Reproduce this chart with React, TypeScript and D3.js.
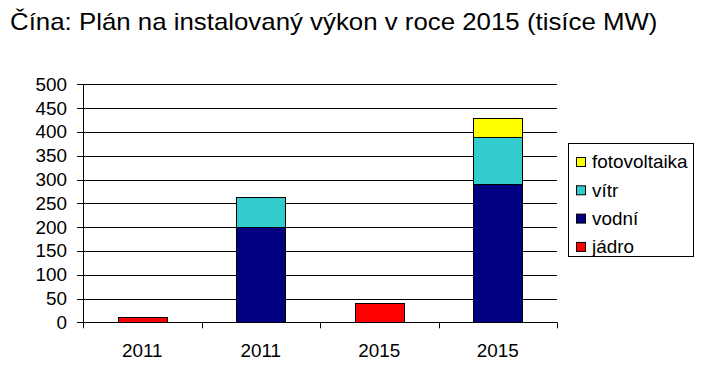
import React from "react";
import * as d3 from "d3";

const categories = ["2011", "2011", "2015", "2015"];
const seriesNames = ["jádro", "vodní", "vítr", "fotovoltaika"];
const jadro = [12, 0, 40, 0];
const vodni = [0, 200, 0, 290];
const vitr = [0, 63, 0, 100];
const fotovoltaika = [0, 0, 0, 40];
const yTicks = [0, 50, 100, 150, 200, 250, 300, 350, 400, 450, 500];
const colors = ["#FF0000", "#000080", "#33CCCC", "#FFFF00"];
const title = "Čína: Plán na instalovaný výkon v roce 2015 (tisíce MW)";

const W = 702;
const H = 376;
const plot = { left: 83, right: 557, top: 84.3, bottom: 322.3 };
const FONT = "'Liberation Sans', Arial, sans-serif";
const SX = 1.05;
const FS = 18;

export default function App() {
  const rows = categories.map((c, i) => ({
    i,
    "jádro": jadro[i],
    "vodní": vodni[i],
    "vítr": vitr[i],
    fotovoltaika: fotovoltaika[i],
  }));
  const stacked = d3.stack<any>().keys(seriesNames)(rows);
  const x = d3
    .scaleBand<number>()
    .domain(categories.map((_, i) => i))
    .range([plot.left, plot.right])
    .paddingInner(0.59)
    .paddingOuter(0.295);
  const xOuter = d3
    .scaleBand<number>()
    .domain(categories.map((_, i) => i))
    .range([plot.left, plot.right]);
  const y = d3.scaleLinear().domain([0, 500]).range([plot.bottom, plot.top]);

  const legendItems = [...seriesNames].reverse();
  const legendColors = [...colors].reverse();

  return (
    <svg
      width={W}
      height={H}
      style={{ position: "absolute", left: 0, top: 0, background: "#fff" }}
      fontFamily={FONT}
    >
      <rect x={0} y={0} width={W} height={H} fill="#fff" />
      <g transform={`translate(10,30) scale(1.095,1)`}>
        <text fontSize={23.6} fill="#000">
          {title}
        </text>
      </g>
      {/* gridlines */}
      {yTicks.map((t) => (
        <line
          key={"g" + t}
          x1={plot.left - 6}
          x2={plot.right}
          y1={Math.round(y(t)) + 0.5}
          y2={Math.round(y(t)) + 0.5}
          stroke="#000"
          strokeWidth={1}
        />
      ))}
      {yTicks.map((t) => (
        <g key={"l" + t} transform={`translate(67,${y(t)}) scale(${SX},1)`}>
          <text fontSize={FS} textAnchor="end" dy="0.36em" fill="#000">
            {t}
          </text>
        </g>
      ))}
      {/* y axis */}
      <line
        x1={plot.left + 0.5}
        x2={plot.left + 0.5}
        y1={plot.top}
        y2={plot.bottom}
        stroke="#000"
      />
      {/* x ticks */}
      {[...categories.map((_, i) => xOuter(i) as number), plot.right].map((px, k) => (
        <line
          key={"xt" + k}
          x1={Math.round(px) + 0.5}
          x2={Math.round(px) + 0.5}
          y1={plot.bottom}
          y2={plot.bottom + 6}
          stroke="#000"
        />
      ))}
      {/* bars */}
      {stacked.map((s, si) =>
        s.map((d, i) =>
          d[1] - d[0] > 0 ? (
            <rect
              key={si + "-" + i}
              x={Math.round(x(i) as number) + 0.5}
              y={Math.round(y(d[1])) + 0.5}
              width={Math.round(x.bandwidth())}
              height={Math.round(y(d[0])) - Math.round(y(d[1]))}
              fill={colors[si]}
              stroke="#000"
              strokeWidth={1}
            />
          ) : null
        )
      )}
      {categories.map((c, i) => (
        <g
          key={"c" + i}
          transform={`translate(${(xOuter(i) as number) + xOuter.bandwidth() / 2},357) scale(${SX},1)`}
        >
          <text fontSize={FS} textAnchor="middle" fill="#000">
            {c}
          </text>
        </g>
      ))}
      {/* legend */}
      <rect x={568.5} y={143.5} width={125} height={113} fill="#fff" stroke="#000" />
      {legendItems.map((n, k) => (
        <g key={"lg" + n} transform={`translate(576,${162 + k * 28.3})`}>
          <rect x={0.5} y={-4.5} width={9} height={9} fill={legendColors[k]} stroke="#000" />
          <g transform={`translate(16,0) scale(${SX},1)`}>
            <text fontSize={FS} dy="0.36em" fill="#000">
              {n}
            </text>
          </g>
        </g>
      ))}
    </svg>
  );
}
